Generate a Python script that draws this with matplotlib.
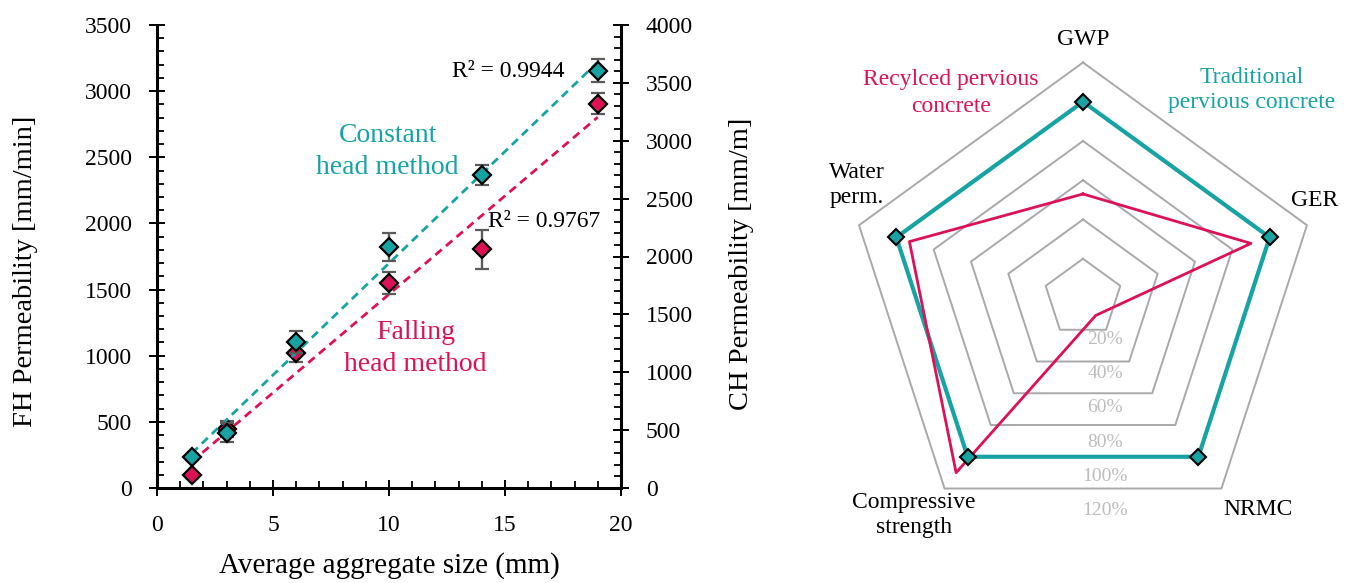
import numpy as np
import matplotlib
matplotlib.use("Agg")
import matplotlib.pyplot as plt
from matplotlib.ticker import MultipleLocator

plt.rcParams['font.family'] = ['Liberation Serif', 'DejaVu Serif']

# ---------------- data ----------------
agg_size = [1.5, 3, 6, 10, 14, 19]
fh_perm = [96, 444, 1023, 1547, 1804, 2905]          # falling head (left axis)
fh_err = [20, 60, 73, 83, 149, 80]
ch_perm = [265, 478, 1261, 2082, 2704, 3605]         # constant head (right axis)
ch_err = [25, 80, 95, 120, 89, 101]
r2_ch = "R² = 0.9944"
r2_fh = "R² = 0.9767"

radar_cats = ["GWP", "GER", "NRMC", "Compressive\nstrength", "Water\nperm."]
traditional = [100, 100, 100, 100, 100]
recycled = [53, 90, 11, 110, 93]
ring_levels = [20, 40, 60, 80, 100, 120]
ring_labels = ["20%", "40%", "60%", "80%", "100%", "120%"]

TEAL = '#17a3a3'
RED = '#dc1158'
GRAY_ERR = '#5a5a5a'

W, H = 1351, 583
fig = plt.figure(figsize=(W / 100, H / 100), dpi=100)

# ---------------- left: permeability ----------------
L, R, T, B = 157, 621, 25, 488
ax = fig.add_axes([L / W, (H - B) / H, (R - L) / W, (B - T) / H])
ax2 = ax.twinx()

ax.set_xlim(0, 20)
ax.set_ylim(0, 3500)
ax2.set_ylim(0, 4000)
ax.xaxis.set_major_locator(MultipleLocator(5))
ax.xaxis.set_minor_locator(MultipleLocator(1))
ax.yaxis.set_major_locator(MultipleLocator(500))
ax.yaxis.set_minor_locator(MultipleLocator(100))
ax2.yaxis.set_major_locator(MultipleLocator(500))
ax2.yaxis.set_minor_locator(MultipleLocator(100))

for a in (ax, ax2):
    for s in a.spines.values():
        s.set_linewidth(2.2)
    a.spines['top'].set_visible(False)
ax.spines['right'].set_visible(False)
ax2.spines['left'].set_visible(False)
ax2.spines['bottom'].set_visible(False)

ax.tick_params(axis='x', which='major', direction='inout', length=11, width=1.4,
               labelsize=17, pad=14)
ax.tick_params(axis='y', which='major', direction='inout', length=11, width=1.4,
               labelsize=17, pad=12.5)
ax.tick_params(which='minor', direction='in', length=5, width=1.3)
ax2.tick_params(axis='y', which='major', direction='inout', length=11, width=1.4,
                labelsize=17, pad=12.5)
ax2.tick_params(axis='y', which='minor', direction='in', length=5, width=1.3)

x = np.array(agg_size, dtype=float)
xf = np.array([x.min(), x.max()])

# falling head (left axis)
p_fh = np.polyfit(x, fh_perm, 1)
ax.plot(xf, np.polyval(p_fh, xf), ls=(0, (3, 2)), color=RED, lw=2.0, zorder=2)
ax.errorbar(x, fh_perm, yerr=fh_err, fmt='D', ms=9, mfc=RED, mec='black', mew=1.6,
            ecolor=GRAY_ERR, elinewidth=1.7, capsize=5, capthick=1.7, zorder=3)

# constant head (right axis)
p_ch = np.polyfit(x, ch_perm, 1)
ax2.plot(xf, np.polyval(p_ch, xf), ls=(0, (3, 2)), color=TEAL, lw=2.0, zorder=2)
ax2.errorbar(x, ch_perm, yerr=ch_err, fmt='D', ms=9, mfc=TEAL, mec='black', mew=1.6,
             ecolor=GRAY_ERR, elinewidth=1.7, capsize=5, capthick=1.7, zorder=3)

ax.text(15.14, 3145, r2_ch, fontsize=17, ha='center', va='center', zorder=5)
ax.text(16.69, 2013, r2_fh, fontsize=17, ha='center', va='center', zorder=5)
ax.text(9.94, 2545, "Constant\nhead method", fontsize=20, color=TEAL, ha='center',
        va='center', linespacing=1.38)
ax.text(11.14, 1056, "Falling\nhead method", fontsize=20, color=RED, ha='center',
        va='center', linespacing=1.38)

ax.set_xlabel("Average aggregate size (mm)", fontsize=21, va='center')
ax.xaxis.set_label_coords(0.501, -0.168)
ax.set_ylabel("FH Permeability [mm/min]", fontsize=20.5, va='center')
ax.yaxis.set_label_coords(-0.284, 0.469)
ax2.set_ylabel("CH Permeability [mm/m]", fontsize=20.5, va='center', rotation=90)
ax2.yaxis.set_label_coords(1.26, 0.484)

# ---------------- right: radar ----------------
cx, cy, scale = 1083, 298, 39.25 / 20   # px per percent
xl, xr, yb, yt = -150, 135, -125, 140
left_px = cx + xl * scale
bot_px = cy - yb * scale
rax = fig.add_axes([left_px / W, (H - bot_px) / H, (xr - xl) * scale / W, (yt - yb) * scale / H])
rax.set_xlim(xl, xr)
rax.set_ylim(yb, yt)
rax.axis('off')

angles = np.deg2rad(90 - 72 * np.arange(len(radar_cats)))
ang_c = np.append(angles, angles[0])

for lvl in ring_levels:
    rax.plot(lvl * np.cos(ang_c), lvl * np.sin(ang_c), color='#a9a9a9', lw=1.4, zorder=1)

tr = np.append(traditional, traditional[0])
rc = np.append(recycled, recycled[0])
rax.plot(tr * np.cos(ang_c), tr * np.sin(ang_c), color=TEAL, lw=3.0, zorder=2)
rax.plot(rc * np.cos(ang_c), rc * np.sin(ang_c), color=RED, lw=2.0, zorder=3)
rax.plot(np.array(traditional) * np.cos(angles), np.array(traditional) * np.sin(angles),
         ls='none', marker='D', ms=8, mfc=TEAL, mec='black', mew=1.5, zorder=4)

for lvl, lab in zip(ring_levels, ring_labels):
    rax.text(11.2, -3.4 - 0.876 * lvl, lab, fontsize=14, color='#bdbdbd',
             ha='center', va='center')

label_pos = [(0, 131.5), (118.2, 49.9), (89, -108), (-86, -110.6), (-115.3, 57.6)]
for cat, (lx, ly) in zip(radar_cats, label_pos):
    rax.text(lx, ly, cat, fontsize=17, ha='center', va='center', linespacing=1.3)

rax.text(-67.4, 104.5, "Recylced pervious\nconcrete", fontsize=17, color=RED,
         ha='center', va='center', linespacing=1.4)
rax.text(86, 106, "Traditional\npervious concrete", fontsize=17, color=TEAL,
         ha='center', va='center', linespacing=1.3)

fig.savefig("out.png", dpi=100)
